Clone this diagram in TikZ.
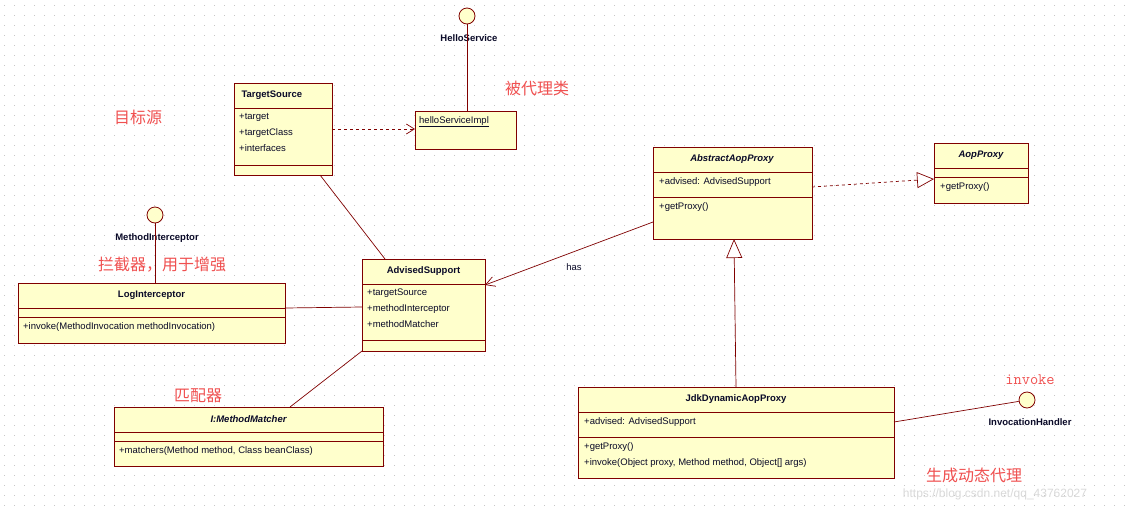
\documentclass[tikz,border=0pt]{standalone}
\usepackage{fontspec}
\setmainfont{Liberation Sans}
\newfontfamily\cjk{Noto Sans CJK SC}
\usetikzlibrary{arrows.meta}
\definecolor{bord}{RGB}{128,0,0}
\definecolor{fillc}{RGB}{255,255,204}
\definecolor{lab}{RGB}{240,80,80}
\definecolor{txt}{RGB}{10,10,40}
\tikzset{
 cls/.style={draw=bord,fill=fillc,line width=0.9pt,inner sep=0pt,rectangle},
 sep/.style={draw=bord,line width=0.9pt},
 conn/.style={draw=bord,line width=0.7pt},
 ttl/.style={font=\fontsize{9.5}{11}\selectfont\bfseries,text=txt},
 mem/.style={font=\fontsize{9.5}{16}\selectfont,text=txt,anchor=north west,inner sep=0pt,align=left},
 lolli/.style={circle,draw=bord,fill=fillc,line width=0.8pt,minimum size=16pt,inner sep=0pt},
 note/.style={font=\cjk\fontsize{16}{18}\selectfont,text=lab},
}
% \klass{name}{x1}{y1}{x2}{y2}
\newcommand{\klass}[5]{\node[cls,minimum width=#4-#2,minimum height=#5-#3] (#1) at ({(#2+#4)/2},{(#3+#5)/2}) {};}
\begin{document}
\begin{tikzpicture}[x=1pt,y=-1pt]
\fill[white] (0,0) rectangle (1125,512);
\useasboundingbox (0,0) rectangle (1125,512);
\foreach \yy in {5,15,...,505} \draw[gray!45,line width=0.8pt,dash pattern=on 0.8pt off 9.2pt] (4,\yy) -- (1125,\yy);

% TargetSource
\klass{ts}{234}{83}{332}{175}
\draw[sep] (234,108) -- (332,108); \draw[sep] (234,165) -- (332,165);
\node[ttl,anchor=west] (tst) at (238,95.5) {TargetSource};
\node[mem] (tsm) at (239,113) {+target\\+targetClass\\+interfaces};

% helloServiceImpl
\klass{hs}{415}{111}{516}{149}
\node[mem] (hsm) at (419,116) {\underline{helloServiceImpl}};
\node[lolli] (hsc) at (467,16) {};
\node[ttl] (hsl) at (469,38) {HelloService};
\draw[conn] (hsc) -- (hs.north -| hsc);

% AbstractAopProxy
\klass{aap}{653}{147}{812}{239}
\draw[sep] (653,172) -- (812,172); \draw[sep] (653,197) -- (812,197);
\node[ttl,font=\fontsize{9.5}{11}\selectfont\bfseries\itshape] (aapt) at (732,159.5) {AbstractAopProxy};
\node[mem] (aapm) at (659,177) {+advised: AdvisedSupport};
\node[mem] (aapo) at (659,202) {+getProxy()};

% AopProxy
\klass{ap}{934}{143}{1028}{203}
\draw[sep] (934,168) -- (1028,168); \draw[sep] (934,177) -- (1028,177);
\node[ttl,font=\fontsize{9.5}{11}\selectfont\bfseries\itshape] (apt) at (981,155.5) {AopProxy};
\node[mem] (apo) at (940,182) {+getProxy()};

% AdvisedSupport
\klass{as}{362}{259}{485}{351}
\draw[sep] (362,284) -- (485,284); \draw[sep] (362,340) -- (485,340);
\node[ttl] (ast) at (423.5,271.5) {AdvisedSupport};
\node[mem] (asm) at (367,289) {+targetSource\\+methodInterceptor\\+methodMatcher};

% LogInterceptor
\klass{li}{18}{283}{285}{343}
\draw[sep] (18,308) -- (285,308); \draw[sep] (18,317) -- (285,317);
\node[ttl] (lit) at (151.5,295.5) {LogInterceptor};
\node[mem] (lio) at (23,322) {+invoke(MethodInvocation methodInvocation)};
\node[lolli] (mic) at (155,215) {};
\node[ttl] (mil) at (157,238) {MethodInterceptor};
\draw[conn] (mic) -- (li.north -| mic);

% MethodMatcher
\klass{mm}{114}{407}{383}{466}
\draw[sep] (114,432) -- (383,432); \draw[sep] (114,441) -- (383,441);
\node[ttl,font=\fontsize{9.5}{11}\selectfont\bfseries\itshape] (mmt) at (248.5,419.5) {I:MethodMatcher};
\node[mem] (mmo) at (119,446) {+matchers(Method method, Class beanClass)};

% JdkDynamicAopProxy
\klass{jd}{578}{387}{894}{478}
\draw[sep] (578,412) -- (894,412); \draw[sep] (578,437) -- (894,437);
\node[ttl] (jdt) at (736,399.5) {JdkDynamicAopProxy};
\node[mem] (jdm) at (584,417) {+advised: AdvisedSupport};
\node[mem] (jdo) at (584,442) {+getProxy()\\+invoke(Object proxy, Method method, Object[] args)};
\node[lolli] (ihc) at (1027,400) {};
\node[ttl] (ihl) at (1030,422) {InvocationHandler};
\coordinate (jdr) at (894,422);
\draw[conn] (jdr) -- (ihc);

% connectors
\coordinate (tsb) at (320,175); \coordinate (ast1) at (385,259);
\draw[conn] (tsb) -- (ast1);
\coordinate (lir) at (285,308); \coordinate (asl) at (362,307);
\draw[conn] (lir) -- (asl);
\coordinate (mmt1) at (290,407); \coordinate (asb) at (362,351);
\draw[conn] (mmt1) -- (asb);
\coordinate (aapl) at (653,222); \coordinate (asr) at (485,285);
\draw[conn,-{Straight Barb[length=9pt,width=10pt]}] (aapl) -- (asr);
\node[font=\fontsize{9.5}{11}\selectfont,text=txt] (has) at (574,267) {has};
\coordinate (tsr) at (332,129); \coordinate (hsl1) at (415,129);
\draw[conn,dashed,-{Straight Barb[length=8pt,width=10pt]}] (tsr) -- (hsl1);
\coordinate (aapr) at (812,187); \coordinate (apl) at (934,179);
\draw[conn,dash pattern=on 3pt off 3pt,-{Triangle[open,length=17pt,width=16pt,fill=white]}] (aapr) -- (apl);
\coordinate (jdtop) at (736,387); \coordinate (aapb) at (734,239);
\draw[conn,-{Triangle[open,length=19pt,width=16pt,fill=white]}] (jdtop) -- (aapb);

% notes
\node[note] (n1) at (138,117) {目标源};
\node[note] (n2) at (537,88) {被代理类};
\node[note] (n3) at (162,265) {拦截器，用于增强};
\node[note] (n4) at (198,396) {匹配器};
\node[font=\ttfamily\fontsize{16}{18}\selectfont,text=lab] (n5) at (1030,380) {invoke};
\node[note] (n6) at (974,475) {生成动态代理};
\node[font=\fontsize{12}{14}\selectfont,text=gray!30] (wm) at (995,494) {https://blog.csdn.net/qq\_43762027};
\end{tikzpicture}
\end{document}
